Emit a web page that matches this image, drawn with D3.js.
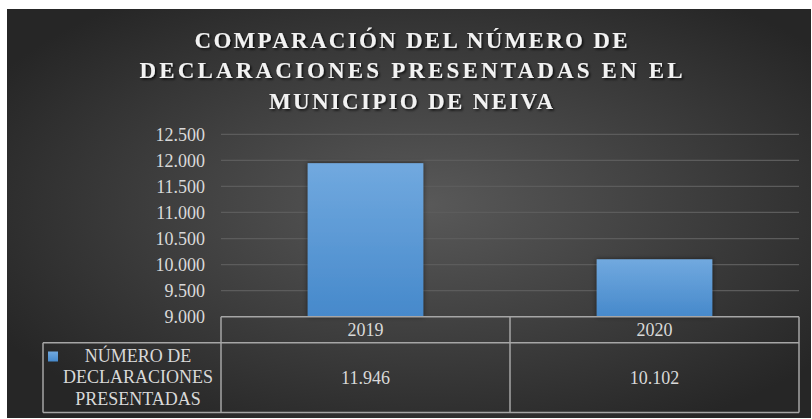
<!DOCTYPE html>
<html>
<head>
<meta charset="utf-8">
<script src="https://cdn.jsdelivr.net/npm/d3@7"></script>
<style>
  html, body { margin: 0; padding: 0; background: #fff; }
  svg { display: block; }
</style>
</head>
<body>
<svg width="812" height="419"></svg>
<script>
const titleLines = [
  'COMPARACIÓN DEL NÚMERO DE',
  'DECLARACIONES PRESENTADAS EN EL',
  'MUNICIPIO DE NEIVA',
];
const titleWidths = [433, 543, 284];
const categories = ['2019', '2020'];
const values = [11946, 10102];
const yTicks = [9000, 9500, 10000, 10500, 11000, 11500, 12000, 12500];
const seriesLabel = ['NÚMERO DE', 'DECLARACIONES', 'PRESENTADAS'];

const FONT = 'Liberation Serif';
const locale = d3.formatLocale({ decimal: ',', thousands: '.', grouping: [3], currency: ['$', ''] });
const fmt = locale.format(',d');

const svg = d3.select('svg');
const defs = svg.append('defs');

// background radial gradient
const bg = defs.append('radialGradient').attr('id', 'bg')
  .attr('cx', '52%').attr('cy', '48%').attr('r', '62%');
bg.append('stop').attr('offset', '0%').attr('stop-color', '#595959');
bg.append('stop').attr('offset', '100%').attr('stop-color', '#262626');

const barGrad = defs.append('linearGradient').attr('id', 'barGrad')
  .attr('x1', 0).attr('y1', 0).attr('x2', 0).attr('y2', 1);
barGrad.append('stop').attr('offset', '0%').attr('stop-color', '#71a9df');
barGrad.append('stop').attr('offset', '100%').attr('stop-color', '#4689cb');

const shadow = defs.append('filter').attr('id', 'shadow')
  .attr('x', '-20%').attr('y', '-20%').attr('width', '140%').attr('height', '140%');
shadow.append('feDropShadow').attr('dx', 0).attr('dy', 0).attr('stdDeviation', 2.5)
  .attr('flood-color', '#000').attr('flood-opacity', 0.55);

const tshadow = defs.append('filter').attr('id', 'tshadow')
  .attr('x', '-10%').attr('y', '-30%').attr('width', '120%').attr('height', '160%');
tshadow.append('feDropShadow').attr('dx', 1.5).attr('dy', 1.5).attr('stdDeviation', 1)
  .attr('flood-color', '#000').attr('flood-opacity', 0.8);

svg.append('rect')
  .attr('x', 7).attr('y', 9).attr('width', 804).attr('height', 409)
  .attr('fill', 'url(#bg)');

// title
svg.append('g')
  .attr('filter', 'url(#tshadow)')
  .selectAll('text')
  .data(titleLines)
  .join('text')
  .attr('x', (d, i) => 409 - titleWidths[i] / 2 + 2)
  .attr('y', (d, i) => 47.7 + i * 30.5)
  .attr('font-family', FONT)
  .attr('font-size', 23)
  .attr('font-weight', 'bold')
  .attr('textLength', (d, i) => titleWidths[i])
  .attr('lengthAdjust', 'spacing')
  .attr('fill', '#f2f2f2')
  .text(d => d);

// scales
const plotLeft = 221;
const plotRight = 799;
const y = d3.scaleLinear().domain([9000, 12500]).range([316.7, 134.3]);
const x = d3.scaleBand().domain(categories).range([plotLeft, plotRight]).padding(0);
const barW = x.bandwidth() * 0.4;

// gridlines
svg.append('g')
  .selectAll('line')
  .data(yTicks.slice(1))
  .join('line')
  .attr('x1', plotLeft).attr('x2', plotRight)
  .attr('y1', d => y(d)).attr('y2', d => y(d))
  .attr('stroke', '#5c5c5c').attr('stroke-width', 1.2);

// y axis labels
const yAxis = d3.axisLeft(y).tickValues(yTicks).tickFormat(fmt).tickSize(0).tickPadding(16);
const ya = svg.append('g').attr('transform', `translate(${plotLeft},0)`).call(yAxis)
  .attr('font-family', FONT);
ya.select('.domain').remove();
ya.selectAll('text')
  .attr('font-family', FONT)
  .attr('font-size', 18)
  .attr('fill', '#d9d9d9');

// bars
svg.append('g')
  .selectAll('rect')
  .data(values)
  .join('rect')
  .attr('x', (d, i) => x(categories[i]) + (x.bandwidth() - barW) / 2)
  .attr('y', d => y(d))
  .attr('width', barW)
  .attr('height', d => y(9000) - y(d))
  .attr('fill', 'url(#barGrad)')
  .attr('filter', 'url(#shadow)');

// data table
const tableTop = y(9000);
const rowSplit = 342.7;
const tableBottom = 412.5;
const legendLeft = 43;
const lineColor = '#a6a6a6';
const tbl = svg.append('g').attr('stroke', lineColor).attr('stroke-width', 1.5).attr('fill', 'none');
tbl.append('line').attr('x1', plotLeft).attr('x2', plotRight).attr('y1', tableTop).attr('y2', tableTop);
tbl.append('line').attr('x1', legendLeft).attr('x2', plotRight).attr('y1', rowSplit).attr('y2', rowSplit);
tbl.append('line').attr('x1', legendLeft).attr('x2', plotRight).attr('y1', tableBottom).attr('y2', tableBottom);
tbl.append('line').attr('x1', legendLeft).attr('x2', legendLeft).attr('y1', rowSplit).attr('y2', tableBottom);
tbl.selectAll('line.col')
  .data(categories.map(c => x(c)).concat([plotRight]))
  .join('line').attr('class', 'col')
  .attr('x1', d => d).attr('x2', d => d)
  .attr('y1', tableTop).attr('y2', tableBottom);

// table texts
svg.append('g').selectAll('text')
  .data(categories)
  .join('text')
  .attr('x', d => x(d) + x.bandwidth() / 2)
  .attr('y', 336)
  .attr('text-anchor', 'middle')
  .attr('font-family', FONT)
  .attr('font-size', 18)
  .attr('fill', '#d9d9d9')
  .text(d => d);

svg.append('g').selectAll('text')
  .data(values)
  .join('text')
  .attr('x', (d, i) => x(categories[i]) + x.bandwidth() / 2)
  .attr('y', 383.5)
  .attr('text-anchor', 'middle')
  .attr('font-family', FONT)
  .attr('font-size', 18)
  .attr('fill', '#d9d9d9')
  .text(d => fmt(d));

// legend key
svg.append('rect')
  .attr('x', 48).attr('y', 351.5).attr('width', 10).attr('height', 10)
  .attr('fill', 'url(#barGrad)');

svg.append('g').selectAll('text')
  .data(seriesLabel)
  .join('text')
  .attr('x', 138)
  .attr('y', (d, i) => 361.7 + i * 21.7)
  .attr('text-anchor', 'middle')
  .attr('font-family', FONT)
  .attr('font-size', 18)
  .attr('fill', '#d9d9d9')
  .text(d => d);
</script>
</body>
</html>
